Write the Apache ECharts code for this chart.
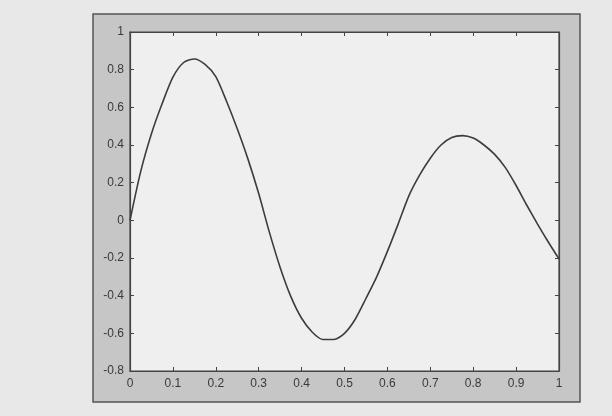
<!DOCTYPE html>
<html>
<head>
<meta charset="utf-8">
<script src="https://cdn.jsdelivr.net/npm/echarts@6/dist/echarts.min.js"></script>
<style>
html,body{margin:0;padding:0;background:#e8e8e8;}
#c{width:612px;height:416px;}
</style>
</head>
<body>
<div id="c"></div>
<script>
const xValues = [0,0.025,0.05,0.075,0.1,0.125,0.15,0.175,0.2,0.225,0.25,0.275,0.3,0.325,0.35,0.375,0.4,0.425,0.45,0.475,0.5,0.525,0.55,0.575,0.6,0.625,0.65,0.675,0.7,0.725,0.75,0.775,0.8,0.825,0.85,0.875,0.9,0.925,0.95,0.975,1];
const yValues = [0,0.26,0.46,0.62,0.76,0.838,0.857,0.828,0.763,0.632,0.486,0.325,0.142,-0.064,-0.25,-0.405,-0.52,-0.594,-0.633,-0.633,-0.6,-0.525,-0.415,-0.3,-0.165,-0.02,0.13,0.24,0.33,0.4,0.44,0.45,0.437,0.4,0.35,0.28,0.185,0.08,-0.02,-0.115,-0.205];
const xTicks = ['0','0.1','0.2','0.3','0.4','0.5','0.6','0.7','0.8','0.9','1'];
const yTicks = ['-0.8','-0.6','-0.4','-0.2','0','0.2','0.4','0.6','0.8','1'];

const data = xValues.map((x,i)=>[x,yValues[i]]);
const chart = echarts.init(document.getElementById('c'));
const lbl = {color:'#3a3a3a', fontFamily:'Liberation Sans, Arial, sans-serif', fontSize:12};
const fmtX = v => { const s = String(Math.round(v*10)/10); return xTicks.includes(s)?s:''; };
const fmtY = v => { const s = String(Math.round(v*10)/10); return yTicks.includes(s)?s:''; };
const axLine = {show:true, onZero:false, lineStyle:{color:'#444', width:1.2}};
const axTick = {show:true, inside:true, length:4, lineStyle:{color:'#444'}};
chart.setOption({
  animation:false,
  backgroundColor:'#e8e8e8',
  graphic:[{type:'rect', z:-10, shape:{x:93,y:14,width:487,height:388}, style:{fill:'#c6c6c6', stroke:'#555', lineWidth:1.5}}],
  grid:{left:130, top:32, right:53, bottom:45, show:true, backgroundColor:'#efefef', borderColor:'#444', borderWidth:1.2},
  xAxis:[
    {type:'value', min:0, max:1, interval:0.1, position:'bottom',
     axisLine:axLine, axisTick:axTick,
     axisLabel:Object.assign({margin:7, formatter:fmtX}, lbl), splitLine:{show:false}},
    {type:'value', min:0, max:1, interval:0.1, position:'top',
     axisLine:axLine, axisTick:axTick,
     axisLabel:{show:false}, splitLine:{show:false}}
  ],
  yAxis:[
    {type:'value', min:-0.8, max:1, interval:0.2, position:'left',
     axisLine:axLine, axisTick:axTick,
     axisLabel:Object.assign({margin:6, formatter:fmtY}, lbl), splitLine:{show:false}},
    {type:'value', min:-0.8, max:1, interval:0.2, position:'right',
     axisLine:axLine, axisTick:axTick,
     axisLabel:{show:false}, splitLine:{show:false}}
  ],
  series:[{type:'line', xAxisIndex:0, yAxisIndex:0, data:data, showSymbol:false, smooth:0.25,
    lineStyle:{color:'#3c3c3c', width:1.6}}]
});
</script>
</body>
</html>
